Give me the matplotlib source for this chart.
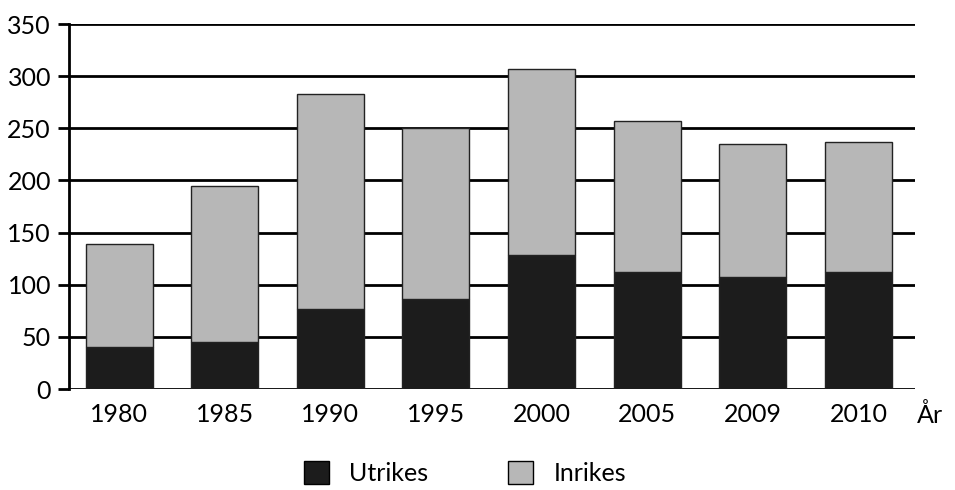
import matplotlib
matplotlib.use("Agg")
import matplotlib.pyplot as plt
from matplotlib.patches import Patch
import numpy as np

years = ["1980", "1985", "1990", "1995", "2000", "2005", "2009", "2010"]
utrikes = [40, 45, 77, 86, 128.5, 112.5, 107.5, 112.5]
totals = [139, 195, 283, 250, 307, 257, 235, 237]
inrikes = [t - u for t, u in zip(totals, utrikes)]
yticks = [0, 50, 100, 150, 200, 250, 300, 350]

plt.rcParams['font.family'] = ['Lato', 'DejaVu Sans']

fig = plt.figure(figsize=(9.55, 4.9), dpi=100)
ax = fig.add_axes([0.0723, 0.206, 0.958 - 0.0723, 0.951 - 0.206])

x = np.arange(len(years))
w = 0.634
dark = '#1c1c1c'
light = '#b7b7b7'
ax.bar(x, utrikes, w, color=dark, edgecolor='#222222', linewidth=1, zorder=3)
ax.bar(x, inrikes, w, bottom=utrikes, color=light, edgecolor='#222222', linewidth=1, zorder=3)

ax.set_ylim(0, 350)
ax.set_xlim(-0.473, 7.533)
ax.set_yticks(yticks)
ax.set_yticklabels([str(v) for v in yticks], fontsize=18)
ax.set_xticks(x)
ax.set_xticklabels(years, fontsize=18)
ax.tick_params(axis='x', length=0, pad=10)
ax.tick_params(axis='y', length=8, width=2, pad=5, direction='out')
for v in yticks:
    ax.axhline(v, color='black', linewidth=2, zorder=1)
for s in ['top', 'right', 'bottom']:
    ax.spines[s].set_visible(False)
ax.spines['left'].set_linewidth(2)
ax.annotate("År", xy=(7.555, 0), xycoords=('data', 'axes fraction'),
            xytext=(0, -10), textcoords='offset points', fontsize=18,
            ha='left', va='top', annotation_clip=False)

handles = [Patch(facecolor=dark, edgecolor='black', label='Utrikes'),
           Patch(facecolor=light, edgecolor='black', label='Inrikes')]
fig.legend(handles=handles, loc='center', bbox_to_anchor=(0.487, 0.034), ncol=2,
           frameon=False, fontsize=18, handlelength=1.0, handleheight=1.0,
           columnspacing=3.2, handletextpad=0.8)

fig.savefig("out.png", dpi=100)
